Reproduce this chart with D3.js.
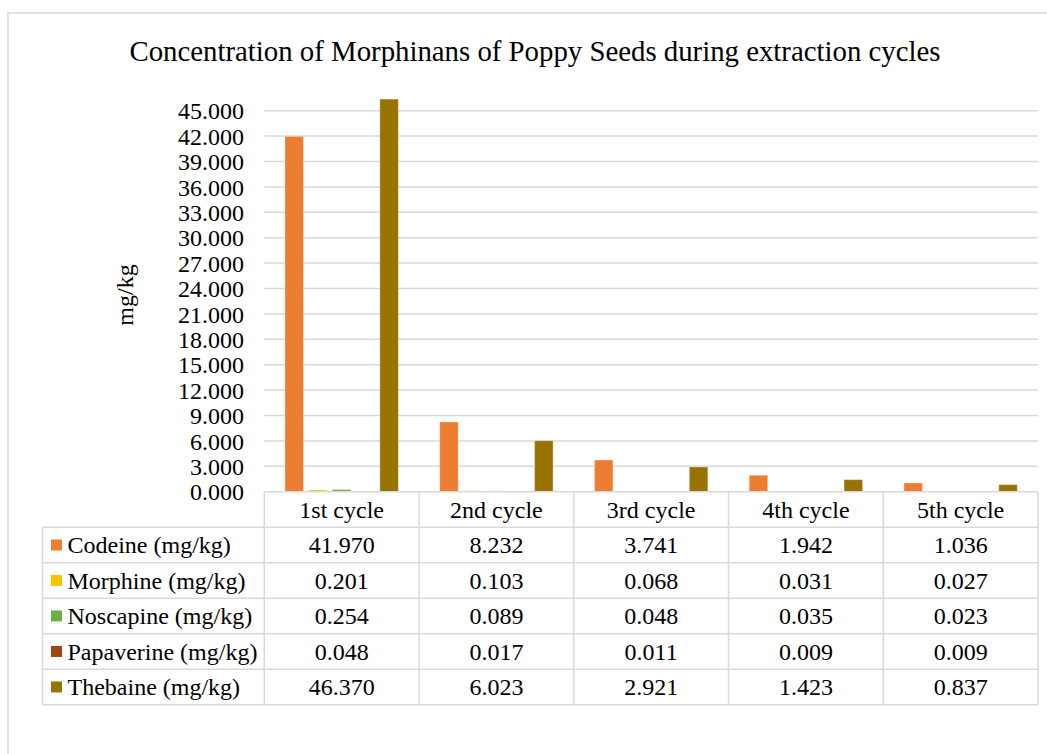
<!DOCTYPE html>
<html><head><meta charset="utf-8">
<script src="https://cdn.jsdelivr.net/npm/d3@7"></script>
<style>body{margin:0;background:#fff}svg{display:block}text{font-family:"Liberation Serif","Times New Roman",serif;fill:#000}</style>
</head><body><svg id="c" width="1047" height="754"></svg>
<script>
const categories = ["1st cycle","2nd cycle","3rd cycle","4th cycle","5th cycle"];
const seriesNames = ["Codeine (mg/kg)","Morphine (mg/kg)","Noscapine (mg/kg)","Papaverine (mg/kg)","Thebaine (mg/kg)"];
const colors = ["#ED7D31","#FFC000","#70AD47","#9E480E","#997300"];
const codeine = [41.970, 8.232, 3.741, 1.942, 1.036];
const morphine = [0.201, 0.103, 0.068, 0.031, 0.027];
const noscapine = [0.254, 0.089, 0.048, 0.035, 0.023];
const papaverine = [0.048, 0.017, 0.011, 0.009, 0.009];
const thebaine = [46.370, 6.023, 2.921, 1.423, 0.837];
const yTicks = [0,3,6,9,12,15,18,21,24,27,30,33,36,39,42,45];
const title = "Concentration of Morphinans of Poppy Seeds during extraction cycles";
const yLabel = "mg/kg";
const values = [codeine, morphine, noscapine, papaverine, thebaine];

const svg = d3.select("#c");
const grid = "#d9d9d9";
// outer border
svg.append("path").attr("d","M8,760 L8,13 L1060,13").attr("fill","none").attr("stroke",grid).attr("stroke-width",1.5);

const x = d3.scaleBand().domain(categories).range([264.3,1038]).padding(0);
const xs = d3.scaleBand().domain(seriesNames).range([0,x.bandwidth()]).paddingInner(0.219).paddingOuter(0.8715);
const y = d3.scaleLinear().domain([0,45]).range([491.7,110.7]);

// title
svg.append("text").attr("x",535).attr("y",61).attr("text-anchor","middle").attr("font-size",28.8).text(title);
// y label
svg.append("text").attr("transform","translate(133,295) rotate(-90)").attr("text-anchor","middle").attr("font-size",24).text(yLabel);

// gridlines
svg.append("g").selectAll("line").data(yTicks.slice(1)).join("line")
  .attr("x1",264.3).attr("x2",1038).attr("y1",d=>y(d)).attr("y2",d=>y(d)).attr("stroke",grid).attr("stroke-width",1.5);

// y axis labels
const yAxis = d3.axisLeft(y).tickValues(yTicks).tickFormat(d3.format(".3f")).tickSize(0).tickPadding(0);
const ya = svg.append("g").attr("transform","translate(244,0)").call(yAxis);
ya.select(".domain").remove();
ya.selectAll("text").attr("font-size",24).attr("font-family",'"Liberation Serif",serif').attr("fill","#000").attr("dy","0.34em");

// bars
values.forEach((vals,si)=>{
  svg.append("g").selectAll("rect").data(vals).join("rect")
    .attr("x",(d,i)=>x(categories[i])+xs(seriesNames[si]))
    .attr("width",xs.bandwidth())
    .attr("y",d=>y(d)).attr("height",d=>y(0)-y(d))
    .attr("fill",colors[si]).attr("stroke","rgba(255,255,255,0.35)").attr("stroke-width",1);
});

// table
const rowTop = 491.7, rowH = 35.5;
const tLeft = 42.5, tRight = 1038;
const tg = svg.append("g").attr("stroke",grid).attr("stroke-width",1.5);
tg.append("line").attr("x1",264.3).attr("x2",tRight).attr("y1",rowTop).attr("y2",rowTop);
for(let r=1;r<=6;r++){
  tg.append("line").attr("x1",tLeft).attr("x2",tRight).attr("y1",rowTop+r*rowH).attr("y2",rowTop+r*rowH);
}
tg.append("line").attr("x1",tLeft).attr("x2",tLeft).attr("y1",rowTop+rowH).attr("y2",rowTop+6*rowH);
categories.forEach(c=>{
  tg.append("line").attr("x1",x(c)).attr("x2",x(c)).attr("y1",rowTop).attr("y2",rowTop+6*rowH);
});
tg.append("line").attr("x1",tRight).attr("x2",tRight).attr("y1",rowTop).attr("y2",rowTop+6*rowH);

// header text
svg.append("g").selectAll("text").data(categories).join("text")
  .attr("x",d=>x(d)+x.bandwidth()/2).attr("y",rowTop+rowH/2).attr("dy","0.34em")
  .attr("text-anchor","middle").attr("font-size",24).text(d=>d);

// rows
seriesNames.forEach((s,si)=>{
  const cy = rowTop+(si+1)*rowH+rowH/2;
  svg.append("rect").attr("x",51).attr("y",cy-5.5).attr("width",11).attr("height",11).attr("fill",colors[si]);
  svg.append("text").attr("x",67.5).attr("y",cy).attr("dy","0.34em").attr("font-size",24).text(s);
  svg.append("g").selectAll("text").data(values[si]).join("text")
    .attr("x",(d,i)=>x(categories[i])+x.bandwidth()/2).attr("y",cy).attr("dy","0.34em")
    .attr("text-anchor","middle").attr("font-size",24).text(d=>d3.format(".3f")(d));
});
</script></body></html>
